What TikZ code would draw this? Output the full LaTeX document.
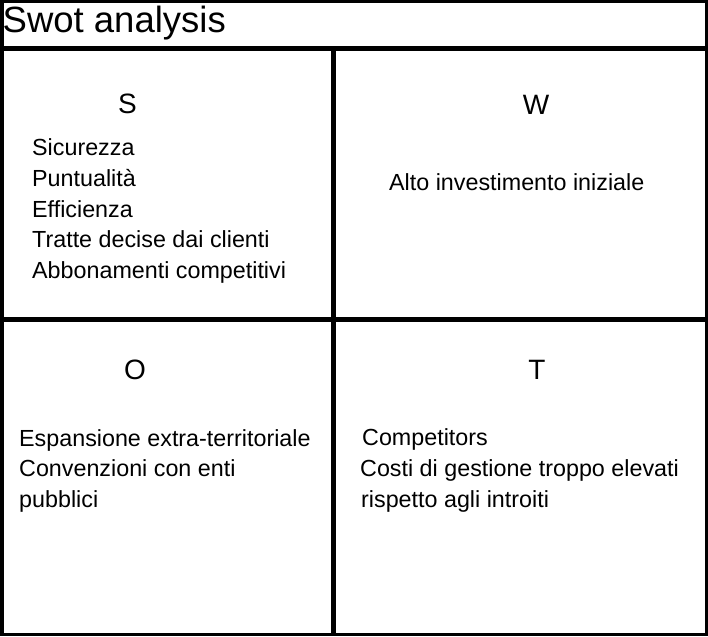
\documentclass[tikz,border=0pt]{standalone}
\usepackage{fontspec}
\setmainfont{Liberation Sans}
\begin{document}
\begin{tikzpicture}[x=1pt,y=-1pt,
  frame/.style={line width=3.5pt, line join=miter},
  divider/.style={line width=5pt},
  heading/.style={anchor=base, inner sep=0pt, font=\fontsize{28}{32}\selectfont},
  item/.style={anchor=base west, inner sep=0pt, font=\fontsize{23.3}{28}\selectfont},
  titletext/.style={anchor=base west, inner sep=0pt, font=\fontsize{36.5}{40}\selectfont}]
\useasboundingbox (0,0) rectangle (708,636);
\fill[white] (0,0) rectangle (708,636);

% outer frame, title bar and the four quadrants
\draw[frame] (1.75,1.75) rectangle (706.25,634.25);
\coordinate (tl) at (0,48.5);
\coordinate (tr) at (708,48.5);
\coordinate (vt) at (333.5,48.5);
\coordinate (vb) at (333.5,634);
\coordinate (ml) at (0,319);
\coordinate (mr) at (708,319);
\draw[divider] (tl) -- (tr);
\draw[divider] (vt) -- (vb);
\draw[divider] (ml) -- (mr);

% title
\node[titletext] (title) at (2.5,32.5) {Swot analysis};

% quadrant headings
\node[heading] (hS) at (127.5,114) {S};
\node[heading] (hW) at (536,115) {W};
\node[heading] (hO) at (135,379) {O};
\node[heading] (hT) at (537,379) {T};

% strengths
\node[item] (s1) at (32,156) {Sicurezza};
\node[item] (s2) at (32,186.5) {Puntualità};
\node[item] (s3) at (32,217) {Efficienza};
\node[item] (s4) at (32,247.5) {Tratte decise dai clienti};
\node[item] (s5) at (32,278) {Abbonamenti competitivi};

% weaknesses
\node[item] (w1) at (389,190) {Alto investimento iniziale};

% opportunities
\node[item] (o1) at (19,446) {Espansione extra-territoriale};
\node[item] (o2) at (19,476.5) {Convenzioni con enti};
\node[item] (o3) at (19,507) {pubblici};

% threats
\node[item] (t1) at (362,445) {Competitors};
\node[item] (t2) at (360,476) {Costi di gestione troppo elevati};
\node[item] (t3) at (361,507) {rispetto agli introiti};
\end{tikzpicture}
\end{document}
